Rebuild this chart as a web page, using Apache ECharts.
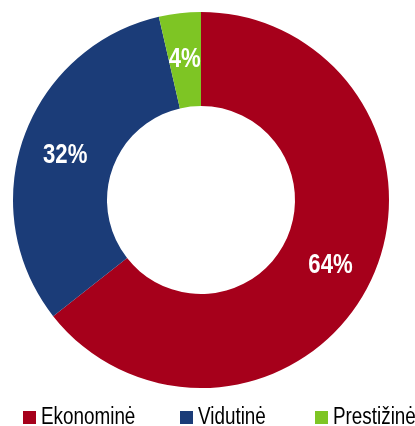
<!DOCTYPE html>
<html><head><meta charset="utf-8">
<script src="https://cdn.jsdelivr.net/npm/echarts@6/dist/echarts.min.js"></script>
<style>html,body{margin:0;padding:0;background:#fff}#c{width:415px;height:426px}</style>
</head><body><div id="c"></div>
<script>
const categories = ['Ekonominė', 'Vidutinė', 'Prestižinė'];
const values = [64.4, 32.0, 3.6];
const colors = ['#A6001B', '#1B3C78', '#7EC524'];
const legendLeft = [18, 175, 310];

const FONT = 'Liberation Sans, Arial, sans-serif';
const chart = echarts.init(document.getElementById('c'), null, {renderer: 'canvas'});
chart.setOption({
  animation: false,
  color: colors,
  legend: categories.map((n, i) => ({
    data: [n],
    left: legendLeft[i],
    top: 401,
    icon: 'rect',
    itemWidth: 13,
    itemHeight: 13,
    itemGap: 0,
    textStyle: {fontFamily: FONT, fontSize: 23, color: '#000'}
  })),
  series: [{
    type: 'pie',
    center: [201, 200],
    radius: [94, 188],
    startAngle: 90,
    clockwise: true,
    data: categories.map((n, i) => ({name: n, value: values[i]})),
    label: {
      show: true,
      position: 'inside',
      formatter: p => Math.round(p.value) + '%',
      color: '#fff',
      fontWeight: 'bold',
      fontSize: 27,
      fontFamily: FONT,
      offset: [0, 3]
    },
    labelLine: {show: false},
    itemStyle: {borderWidth: 0}
  }]
});
// Condense text horizontally (Arial Narrow look)
function condense(el, seen) {
  if (!el || seen.has(el)) return;
  seen.add(el);
  if (el.type === 'text') {
    el.originX = (el.style && el.style.x) || 0;
    el.originY = (el.style && el.style.y) || 0;
    el.scaleX = 0.82;
    el.markRedraw();
  }
  if (el.getTextContent) condense(el.getTextContent(), seen);
  if (el.type !== 'text' && el.childrenRef) el.childrenRef().forEach(c => condense(c, seen));
}
const zr = chart.getZr();
const seen = new Set();
zr.storage.getRoots().forEach(r => condense(r, seen));
zr.refreshImmediately();
</script></body></html>
